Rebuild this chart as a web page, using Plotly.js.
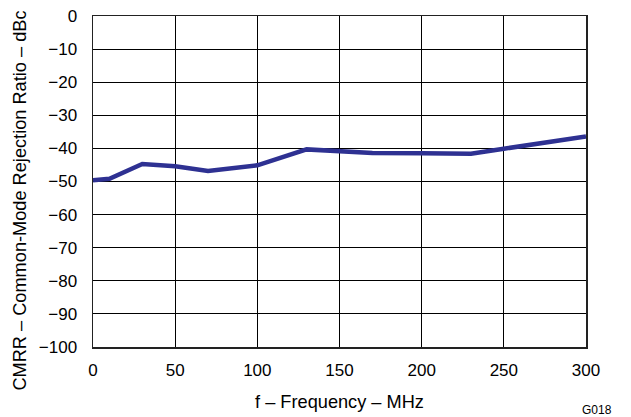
<!DOCTYPE html>
<html><head><meta charset="utf-8">
<script src="https://cdn.plot.ly/plotly-3.0.1.min.js"></script>
<style>html,body{margin:0;padding:0;background:#fff}</style>
</head><body><div id="chart" style="width:631px;height:417px"></div>
<script>
const freq = [0, 10, 30, 50, 70, 100, 130, 150, 170, 200, 230, 250, 300];
const cmrr = [-49.6, -49.2, -44.7, -45.4, -46.8, -45.1, -40.3, -40.8, -41.4, -41.5, -41.6, -40.1, -36.4];
const yTickVals = [0, -10, -20, -30, -40, -50, -60, -70, -80, -90, -100];
const yTickText = yTickVals.map(v => v < 0 ? '\u2212' + Math.abs(v) : String(v));
const xTickVals = [0, 50, 100, 150, 200, 250, 300];
const yTitle = 'CMRR \u2013 Common-Mode Rejection Ratio \u2013 dBc';
const xTitle = 'f \u2013 Frequency \u2013 MHz';
const figId = 'G018';

const fam = 'Liberation Sans, Arial, sans-serif';
const tickFont = {family: fam, size: 17, color: '#000'};
const titleFont = {family: fam, size: 18.2, color: '#000'};
Plotly.newPlot('chart', [{
  x: freq, y: cmrr, mode: 'lines', type: 'scatter',
  line: {color: '#2e3192', width: 4.5}, hoverinfo: 'none'
}], {
  width: 631, height: 417,
  margin: {l: 93, r: 45, t: 16, b: 70},
  paper_bgcolor: '#fff', plot_bgcolor: '#fff',
  font: tickFont,
  showlegend: false,
  xaxis: {
    range: [0, 300], tickvals: xTickVals, ticktext: xTickVals.map(String),
    showgrid: true, gridcolor: '#000', gridwidth: 1,
    showline: true, linecolor: '#222', linewidth: 1.5, mirror: true,
    ticks: 'outside', ticklen: 7, tickcolor: 'rgba(0,0,0,0)',
    zeroline: false, tickfont: tickFont,
    title: {text: xTitle, font: titleFont, standoff: 16}
  },
  yaxis: {
    range: [-100, 0], tickvals: yTickVals, ticktext: yTickText,
    showgrid: true, gridcolor: '#000', gridwidth: 1,
    showline: true, linecolor: '#222', linewidth: 1.5, mirror: true,
    ticks: 'outside', ticklen: 11, tickcolor: 'rgba(0,0,0,0)',
    zeroline: false, tickfont: tickFont
  },
  annotations: [{
    text: yTitle, xref: 'paper', yref: 'paper', x: -0.147, y: 0.441,
    xanchor: 'center', yanchor: 'middle', textangle: -90, showarrow: false,
    font: titleFont
  }, {
    text: figId, xref: 'paper', yref: 'paper', x: 1.022, y: -0.19,
    xanchor: 'center', yanchor: 'middle', showarrow: false,
    font: {family: fam, size: 12, color: '#000'}
  }]
}, {staticPlot: true});
</script></body></html>
